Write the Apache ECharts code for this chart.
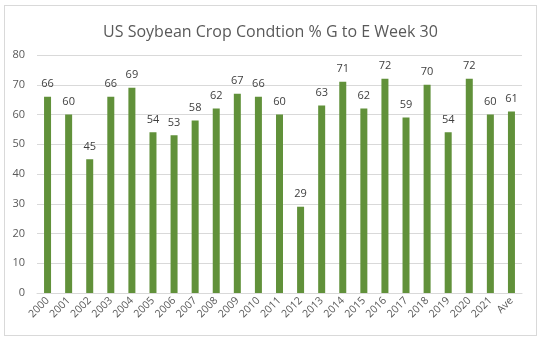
<!DOCTYPE html>
<html><head><meta charset="utf-8">
<script src="https://cdn.jsdelivr.net/npm/echarts@6/dist/echarts.min.js"></script>
<style>html,body{margin:0;padding:0;background:#fff}#c{width:541px;height:341px;position:relative}
#frame{position:absolute;left:4px;top:5px;width:531px;height:329px;border:1px solid #d9d9d9;pointer-events:none}</style>
</head><body><div id="c"></div><div id="frame"></div>
<script>
const categories = ['2000','2001','2002','2003','2004','2005','2006','2007','2008','2009','2010','2011','2012','2013','2014','2015','2016','2017','2018','2019','2020','2021','Ave'];
const values = [66,60,45,66,69,54,53,58,62,67,66,60,29,63,71,62,72,59,70,54,72,60,61];
const titleText = 'US Soybean Crop Condtion % G to E Week 30';
const chart = echarts.init(document.getElementById('c'), null, {renderer:'canvas'});
const font = '"Open Sans", "Noto Sans", sans-serif';
chart.setOption({
  animation:false,
  title:{text:titleText,left:'center',top:19,textStyle:{fontFamily:font,fontSize:16,fontWeight:'normal',color:'#595959'}},
  grid:{left:37,right:19,top:55,bottom:48,containLabel:false},
  xAxis:{type:'category',data:categories,
    axisLine:{lineStyle:{color:'#d9d9d9'}},axisTick:{show:false},
    axisLabel:{rotate:45,interval:0,fontFamily:font,fontSize:10.5,color:'#595959',margin:6}},
  yAxis:{type:'value',min:0,max:80,interval:10,
    axisLine:{show:false},axisTick:{show:false},
    splitLine:{lineStyle:{color:'#d9d9d9'}},
    axisLabel:{fontFamily:font,fontSize:11,color:'#595959',margin:12}},
  series:[{type:'bar',data:values,barWidth:7,itemStyle:{color:'#61913a'},
    label:{show:true,position:'top',distance:7,fontFamily:font,fontSize:11,color:'#404040'}}]
});
</script></body></html>
